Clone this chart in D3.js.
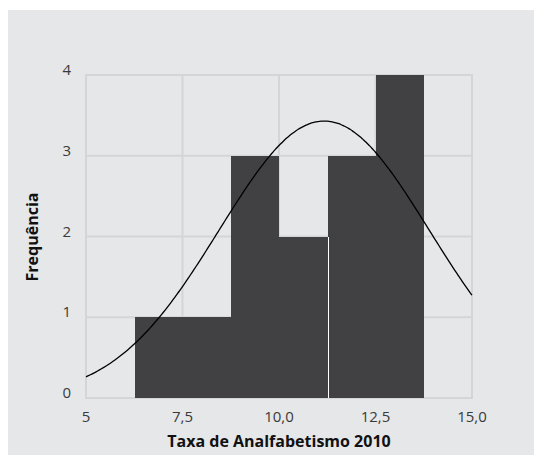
<!DOCTYPE html>
<html>
<head>
<meta charset="utf-8">
<script src="https://cdn.jsdelivr.net/npm/d3@7"></script>
<style>
  body { margin: 0; background: #fff; }
  svg { display: block; }
  .tick-label { font-family: "Open Sans", sans-serif; font-size: 15px; fill: #3a3a3a; }
  .title { font-family: "Open Sans", sans-serif; font-size: 16px; font-weight: bold; fill: #111; }
</style>
</head>
<body>
<div id="chart"></div>
<script>
// histogram bins (Taxa de Analfabetismo 2010)
const binEdges = [6.26, 7.51, 8.76, 10.01, 11.26, 12.51, 13.76]
const counts = [1, 1, 3, 2, 3, 4]
const xTicks = [5, 7.5, 10, 12.5, 15]
const xTickLabels = ["5", "7,5", "10,0", "12,5", "15,0"]
const yTicks = [0, 1, 2, 3, 4]
const yTickLabels = ["0", "1", "2", "3", "4"]
// fitted normal curve
const curveMean = 11.17
const curveSd = 2.72
const curvePeak = 3.43

const width = 534, height = 455
const svg = d3.select("#chart").append("svg")
  .attr("width", width)
  .attr("height", height)

svg.append("rect")
  .attr("x", 8).attr("y", 10)
  .attr("width", width - 8).attr("height", height - 10)
  .attr("fill", "#e6e7e9")

const x = d3.scaleLinear().domain([5, 15]).range([86, 472])
const y = d3.scaleLinear().domain([0, 4]).range([398, 75])

const grid = svg.append("g")
  .attr("stroke", "#d4d5d7")
  .attr("stroke-width", 2)
grid.selectAll(".gx").data(xTicks).enter().append("line")
  .attr("x1", d => x(d)).attr("x2", d => x(d))
  .attr("y1", y(0)).attr("y2", y(4))
grid.selectAll(".gy").data(yTicks).enter().append("line")
  .attr("x1", x(5) - 1).attr("x2", x(15) + 1)
  .attr("y1", d => y(d)).attr("y2", d => y(d))

const bins = counts.map((c, i) => ({ x0: binEdges[i], x1: binEdges[i + 1], count: c }))

svg.append("g").selectAll("rect")
  .data(bins)
  .enter().append("rect")
  .attr("x", d => Math.round(x(d.x0)))
  .attr("y", d => Math.round(y(d.count)))
  .attr("width", d => Math.round(x(d.x1)) - Math.round(x(d.x0)))
  .attr("height", d => Math.round(y(0)) - Math.round(y(d.count)))
  .attr("fill", "#414143")
  .attr("shape-rendering", "crispEdges")

// thin white separator between the 4th and 5th bins
const sepX = Math.round(x(binEdges[4])) + 0.5
svg.append("line")
  .attr("x1", sepX).attr("x2", sepX)
  .attr("y1", y(0)).attr("y2", Math.round(y(Math.min(counts[3], counts[4]))))
  .attr("stroke", "#fff")
  .attr("stroke-width", 1)

const curveX = d3.range(5, 15.001, 0.05)
const line = d3.line()
  .x(d => x(d))
  .y(d => y(curvePeak * Math.exp(-Math.pow(d - curveMean, 2) / (2 * curveSd * curveSd))))
  .curve(d3.curveBasis)
svg.append("path")
  .datum(curveX)
  .attr("d", line)
  .attr("fill", "none")
  .attr("stroke", "#000")
  .attr("stroke-width", 1.3)

svg.selectAll(".xl").data(xTicks).enter().append("text")
  .attr("class", "tick-label")
  .attr("x", d => x(d))
  .attr("y", 422)
  .attr("text-anchor", "middle")
  .text((d, i) => xTickLabels[i])

svg.selectAll(".yl").data(yTicks).enter().append("text")
  .attr("class", "tick-label")
  .attr("x", 71)
  .attr("y", d => y(d))
  .attr("text-anchor", "end")
  .text((d, i) => yTickLabels[i])

svg.append("text")
  .attr("class", "title")
  .attr("x", 279)
  .attr("y", 447)
  .attr("text-anchor", "middle")
  .text("Taxa de Analfabetismo 2010")

svg.append("text")
  .attr("class", "title")
  .attr("transform", "translate(38,237) rotate(-90)")
  .attr("text-anchor", "middle")
  .text("Frequência")
</script>
</body>
</html>
